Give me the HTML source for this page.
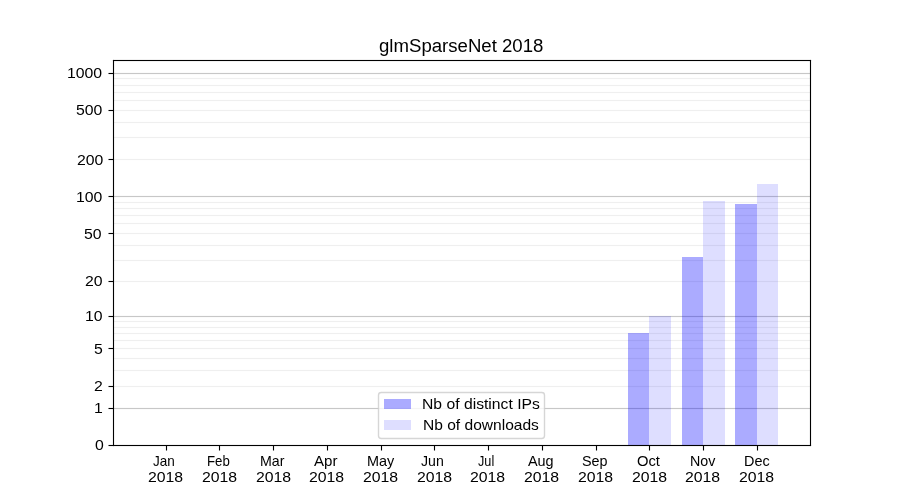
<!DOCTYPE html>
<html lang="en"><head><meta charset="utf-8"><title>glmSparseNet 2018</title>
<style>
html,body{margin:0;padding:0;background:#fff;}
body{width:900px;height:500px;position:relative;overflow:hidden;font-family:"Liberation Sans",sans-serif;color:#000;}
.t{position:absolute;white-space:nowrap;line-height:1;transform-origin:0 0;}
#labels{position:absolute;left:0;top:0;width:900px;height:500px;will-change:transform;-webkit-font-smoothing:antialiased;}
</style></head><body>
<svg width="900" height="500" viewBox="0 0 900 500" style="position:absolute;left:0;top:0">
<rect x="0" y="0" width="900" height="500" fill="#ffffff"/>
<rect x="113.000" y="407.935" width="697.500" height="1.130" fill="#b0b0b0" fill-opacity="0.712"/>
<rect x="113.000" y="385.935" width="697.500" height="1.130" fill="#b0b0b0" fill-opacity="0.205"/>
<rect x="113.000" y="369.935" width="697.500" height="1.130" fill="#b0b0b0" fill-opacity="0.205"/>
<rect x="113.000" y="357.935" width="697.500" height="1.130" fill="#b0b0b0" fill-opacity="0.205"/>
<rect x="113.000" y="347.935" width="697.500" height="1.130" fill="#b0b0b0" fill-opacity="0.205"/>
<rect x="113.000" y="339.935" width="697.500" height="1.130" fill="#b0b0b0" fill-opacity="0.205"/>
<rect x="113.000" y="332.935" width="697.500" height="1.130" fill="#b0b0b0" fill-opacity="0.205"/>
<rect x="113.000" y="326.935" width="697.500" height="1.130" fill="#b0b0b0" fill-opacity="0.205"/>
<rect x="113.000" y="320.935" width="697.500" height="1.130" fill="#b0b0b0" fill-opacity="0.205"/>
<rect x="113.000" y="315.935" width="697.500" height="1.130" fill="#b0b0b0" fill-opacity="0.712"/>
<rect x="113.000" y="280.935" width="697.500" height="1.130" fill="#b0b0b0" fill-opacity="0.205"/>
<rect x="113.000" y="259.935" width="697.500" height="1.130" fill="#b0b0b0" fill-opacity="0.205"/>
<rect x="113.000" y="244.935" width="697.500" height="1.130" fill="#b0b0b0" fill-opacity="0.205"/>
<rect x="113.000" y="232.935" width="697.500" height="1.130" fill="#b0b0b0" fill-opacity="0.205"/>
<rect x="113.000" y="222.935" width="697.500" height="1.130" fill="#b0b0b0" fill-opacity="0.205"/>
<rect x="113.000" y="214.935" width="697.500" height="1.130" fill="#b0b0b0" fill-opacity="0.205"/>
<rect x="113.000" y="207.935" width="697.500" height="1.130" fill="#b0b0b0" fill-opacity="0.205"/>
<rect x="113.000" y="201.935" width="697.500" height="1.130" fill="#b0b0b0" fill-opacity="0.205"/>
<rect x="113.000" y="195.935" width="697.500" height="1.130" fill="#b0b0b0" fill-opacity="0.712"/>
<rect x="113.000" y="158.935" width="697.500" height="1.130" fill="#b0b0b0" fill-opacity="0.205"/>
<rect x="113.000" y="136.935" width="697.500" height="1.130" fill="#b0b0b0" fill-opacity="0.205"/>
<rect x="113.000" y="121.935" width="697.500" height="1.130" fill="#b0b0b0" fill-opacity="0.205"/>
<rect x="113.000" y="109.935" width="697.500" height="1.130" fill="#b0b0b0" fill-opacity="0.205"/>
<rect x="113.000" y="99.935" width="697.500" height="1.130" fill="#b0b0b0" fill-opacity="0.205"/>
<rect x="113.000" y="91.935" width="697.500" height="1.130" fill="#b0b0b0" fill-opacity="0.205"/>
<rect x="113.000" y="84.935" width="697.500" height="1.130" fill="#b0b0b0" fill-opacity="0.205"/>
<rect x="113.000" y="77.935" width="697.500" height="1.130" fill="#b0b0b0" fill-opacity="0.205"/>
<rect x="113.000" y="72.935" width="697.500" height="1.130" fill="#b0b0b0" fill-opacity="0.712"/>
<rect x="628" y="333" width="21" height="112" fill="#0000ff" fill-opacity="0.33" shape-rendering="crispEdges"/>
<rect x="649" y="316" width="22" height="129" fill="#0000ff" fill-opacity="0.13" shape-rendering="crispEdges"/>
<rect x="682" y="257" width="21" height="188" fill="#0000ff" fill-opacity="0.33" shape-rendering="crispEdges"/>
<rect x="703" y="201" width="22" height="244" fill="#0000ff" fill-opacity="0.13" shape-rendering="crispEdges"/>
<rect x="735" y="204" width="22" height="241" fill="#0000ff" fill-opacity="0.33" shape-rendering="crispEdges"/>
<rect x="757" y="184" width="21" height="261" fill="#0000ff" fill-opacity="0.13" shape-rendering="crispEdges"/>
<rect x="108.500" y="444.945" width="5.000" height="1.111" fill="#000" fill-opacity="1"/>
<rect x="108.500" y="407.945" width="5.000" height="1.111" fill="#000" fill-opacity="1"/>
<rect x="108.500" y="385.945" width="5.000" height="1.111" fill="#000" fill-opacity="1"/>
<rect x="108.500" y="347.945" width="5.000" height="1.111" fill="#000" fill-opacity="1"/>
<rect x="108.500" y="315.945" width="5.000" height="1.111" fill="#000" fill-opacity="1"/>
<rect x="108.500" y="280.945" width="5.000" height="1.111" fill="#000" fill-opacity="1"/>
<rect x="108.500" y="232.945" width="5.000" height="1.111" fill="#000" fill-opacity="1"/>
<rect x="108.500" y="195.945" width="5.000" height="1.111" fill="#000" fill-opacity="1"/>
<rect x="108.500" y="158.945" width="5.000" height="1.111" fill="#000" fill-opacity="1"/>
<rect x="108.500" y="109.945" width="5.000" height="1.111" fill="#000" fill-opacity="1"/>
<rect x="108.500" y="72.945" width="5.000" height="1.111" fill="#000" fill-opacity="1"/>
<rect x="165.945" y="445.500" width="1.111" height="5.000" fill="#000" fill-opacity="1"/>
<rect x="218.945" y="445.500" width="1.111" height="5.000" fill="#000" fill-opacity="1"/>
<rect x="272.945" y="445.500" width="1.111" height="5.000" fill="#000" fill-opacity="1"/>
<rect x="326.945" y="445.500" width="1.111" height="5.000" fill="#000" fill-opacity="1"/>
<rect x="380.945" y="445.500" width="1.111" height="5.000" fill="#000" fill-opacity="1"/>
<rect x="433.945" y="445.500" width="1.111" height="5.000" fill="#000" fill-opacity="1"/>
<rect x="487.945" y="445.500" width="1.111" height="5.000" fill="#000" fill-opacity="1"/>
<rect x="541.944" y="445.500" width="1.111" height="5.000" fill="#000" fill-opacity="1"/>
<rect x="595.944" y="445.500" width="1.111" height="5.000" fill="#000" fill-opacity="1"/>
<rect x="648.944" y="445.500" width="1.111" height="5.000" fill="#000" fill-opacity="1"/>
<rect x="702.944" y="445.500" width="1.111" height="5.000" fill="#000" fill-opacity="1"/>
<rect x="756.944" y="445.500" width="1.111" height="5.000" fill="#000" fill-opacity="1"/>
<rect x="112.945" y="59.944" width="1.111" height="386.111" fill="#000" fill-opacity="1"/>
<rect x="809.944" y="59.944" width="1.111" height="386.111" fill="#000" fill-opacity="1"/>
<rect x="112.945" y="444.945" width="698.111" height="1.111" fill="#000" fill-opacity="1"/>
<rect x="112.945" y="59.944" width="698.111" height="1.111" fill="#000" fill-opacity="1"/>
<rect x="378.5" y="392.5" width="166" height="46" rx="2.78" ry="2.78" fill="#ffffff" fill-opacity="0.8" stroke="#cccccc" stroke-opacity="0.8" stroke-width="1.389"/>
<rect x="384" y="399" width="27" height="10" fill="#0000ff" fill-opacity="0.33" shape-rendering="crispEdges"/>
<rect x="384" y="420" width="27" height="10" fill="#0000ff" fill-opacity="0.13" shape-rendering="crispEdges"/>
</svg>
<div id="labels">
<div class="t" id="title" style="left:378.61px;top:37.54px;font-size:17.40px;transform:scale(1.0695,1.0200)">glmSparseNet 2018</div>
<div class="t" id="y0" style="left:95.11px;top:438.02px;font-size:14.50px;transform:scale(1.0900,1.0000)">0</div>
<div class="t" id="y1" style="left:93.75px;top:401.02px;font-size:14.50px;transform:scale(1.0900,1.0000)">1</div>
<div class="t" id="y2" style="left:94.29px;top:379.15px;font-size:14.50px;transform:scale(1.0900,1.0000)">2</div>
<div class="t" id="y5" style="left:94.38px;top:342.35px;font-size:14.50px;transform:scale(1.0900,1.0000)">5</div>
<div class="t" id="y10" style="left:84.79px;top:308.54px;font-size:14.50px;transform:scale(1.0900,1.0000)">10</div>
<div class="t" id="y20" style="left:84.87px;top:274.09px;font-size:14.50px;transform:scale(1.0900,1.0000)">20</div>
<div class="t" id="y50" style="left:83.83px;top:227.09px;font-size:14.50px;transform:scale(1.0900,1.0000)">50</div>
<div class="t" id="y100" style="left:75.76px;top:190.14px;font-size:14.50px;transform:scale(1.0900,1.0000)">100</div>
<div class="t" id="y200" style="left:76.79px;top:153.31px;font-size:14.50px;transform:scale(1.0900,1.0000)">200</div>
<div class="t" id="y500" style="left:75.72px;top:102.95px;font-size:14.50px;transform:scale(1.0900,1.0000)">500</div>
<div class="t" id="y1000" style="left:66.75px;top:65.57px;font-size:14.50px;transform:scale(1.0900,1.0000)">1000</div>
<div class="t" id="m0" style="left:152.97px;top:453.84px;font-size:14.50px;transform:scale(0.9312,1.0000)">Jan</div>
<div class="t" id="yr0" style="left:147.74px;top:469.98px;font-size:14.50px;transform:scale(1.0900,1.0000)">2018</div>
<div class="t" id="m1" style="left:206.93px;top:453.84px;font-size:14.50px;transform:scale(0.9130,1.0000)">Feb</div>
<div class="t" id="yr1" style="left:201.78px;top:469.98px;font-size:14.50px;transform:scale(1.0900,1.0000)">2018</div>
<div class="t" id="m2" style="left:259.80px;top:453.84px;font-size:14.50px;transform:scale(0.9787,1.0000)">Mar</div>
<div class="t" id="yr2" style="left:255.78px;top:469.98px;font-size:14.50px;transform:scale(1.0900,1.0000)">2018</div>
<div class="t" id="m3" style="left:314.02px;top:453.84px;font-size:14.50px;transform:scale(1.0382,1.0000)">Apr</div>
<div class="t" id="yr3" style="left:308.59px;top:469.98px;font-size:14.50px;transform:scale(1.0900,1.0000)">2018</div>
<div class="t" id="m4" style="left:366.98px;top:453.84px;font-size:14.50px;transform:scale(0.9956,1.0000)">May</div>
<div class="t" id="yr4" style="left:362.69px;top:469.98px;font-size:14.50px;transform:scale(1.0900,1.0000)">2018</div>
<div class="t" id="m5" style="left:421.43px;top:453.84px;font-size:14.50px;transform:scale(0.9737,1.0000)">Jun</div>
<div class="t" id="yr5" style="left:416.73px;top:469.98px;font-size:14.50px;transform:scale(1.0900,1.0000)">2018</div>
<div class="t" id="m6" style="left:477.93px;top:453.84px;font-size:14.50px;transform:scale(0.8736,1.0000)">Jul</div>
<div class="t" id="yr6" style="left:469.70px;top:469.98px;font-size:14.50px;transform:scale(1.0900,1.0000)">2018</div>
<div class="t" id="m7" style="left:528.00px;top:453.84px;font-size:14.50px;transform:scale(0.9935,1.0000)">Aug</div>
<div class="t" id="yr7" style="left:524.00px;top:469.98px;font-size:14.50px;transform:scale(1.0900,1.0000)">2018</div>
<div class="t" id="m8" style="left:581.92px;top:453.84px;font-size:14.50px;transform:scale(0.9905,1.0000)">Sep</div>
<div class="t" id="yr8" style="left:577.61px;top:469.98px;font-size:14.50px;transform:scale(1.0900,1.0000)">2018</div>
<div class="t" id="m9" style="left:637.33px;top:453.84px;font-size:14.50px;transform:scale(1.0183,1.0000)">Oct</div>
<div class="t" id="yr9" style="left:631.65px;top:469.98px;font-size:14.50px;transform:scale(1.0900,1.0000)">2018</div>
<div class="t" id="m10" style="left:690.12px;top:453.84px;font-size:14.50px;transform:scale(0.9831,1.0000)">Nov</div>
<div class="t" id="yr10" style="left:684.76px;top:469.98px;font-size:14.50px;transform:scale(1.0900,1.0000)">2018</div>
<div class="t" id="m11" style="left:744.16px;top:453.84px;font-size:14.50px;transform:scale(0.9939,1.0000)">Dec</div>
<div class="t" id="yr11" style="left:738.87px;top:469.98px;font-size:14.50px;transform:scale(1.0900,1.0000)">2018</div>
<div class="t" id="lg1" style="left:421.94px;top:396.85px;font-size:14.50px;transform:scale(1.0834,1.0000)">Nb of distinct IPs</div>
<div class="t" id="lg2" style="left:422.51px;top:417.88px;font-size:14.50px;transform:scale(1.0730,1.0000)">Nb of downloads</div>
</div>
</body></html>
